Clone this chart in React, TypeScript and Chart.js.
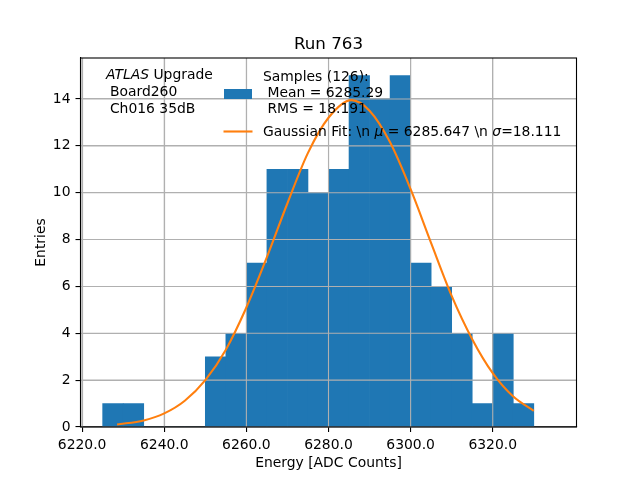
import { useEffect, useRef } from "react";
import { Chart, registerables } from "chart.js";

Chart.register(...registerables);

// histogram: 5-unit bins from 6225 to 6330
const binCenters = [
  6227.5, 6232.5, 6237.5, 6242.5, 6247.5, 6252.5, 6257.5, 6262.5, 6267.5, 6272.5, 6277.5,
  6282.5, 6287.5, 6292.5, 6297.5, 6302.5, 6307.5, 6312.5, 6317.5, 6322.5, 6327.5,
];
const counts = [1, 1, 0, 0, 0, 3, 4, 7, 11, 11, 10, 11, 15, 14, 15, 7, 6, 4, 1, 4, 1];

// gaussian fit curve
const fitX = [
  6228.5, 6235, 6240, 6245, 6250, 6255, 6260, 6265, 6270, 6275, 6280, 6285.6, 6290, 6295,
  6300, 6305, 6310, 6315, 6320, 6325, 6330,
];
const fitY = [
  0.11, 0.28, 0.58, 1.12, 2.0, 3.3, 5.1, 7.25, 9.55, 11.7, 13.2, 13.95, 13.5, 12.15, 10.15,
  7.85, 5.6, 3.75, 2.3, 1.3, 0.69,
];

const xTicks = [6220, 6240, 6260, 6280, 6300, 6320];
const yTicks = [0, 2, 4, 6, 8, 10, 12, 14];

const FONT = "'DejaVu Sans', sans-serif";
const BLUE = "#1f77b4";
const ORANGE = "#ff7f0e";
const GRID = "#b0b0b0";

// draws text pieces in a row, some of them italic
function drawRuns(ctx: CanvasRenderingContext2D, runs: [string, boolean][], x: number, y: number) {
  let cx = x;
  for (const [txt, italic] of runs) {
    ctx.font = `${italic ? "italic " : ""}13.9px ${FONT}`;
    ctx.fillText(txt, cx, y);
    cx += ctx.measureText(txt).width;
  }
}

// grid goes above the bars but under the fit line, like matplotlib
const gridOverBars = {
  id: "gridOverBars",
  afterDatasetDraw(chart: Chart, args: any) {
    if (args.index !== 1) return;
    const { ctx, chartArea: a, scales } = chart;
    ctx.save();
    ctx.strokeStyle = GRID;
    ctx.lineWidth = 1.1;
    ctx.beginPath();
    for (const v of xTicks) {
      const px = scales.x.getPixelForValue(v);
      ctx.moveTo(px, a.top);
      ctx.lineTo(px, a.bottom);
    }
    for (const v of yTicks) {
      const py = scales.y.getPixelForValue(v);
      ctx.moveTo(a.left, py);
      ctx.lineTo(a.right, py);
    }
    ctx.stroke();
    ctx.restore();
  },
};

const overlay = {
  id: "overlay",
  afterDraw(chart: Chart) {
    const { ctx, chartArea: a } = chart;
    ctx.save();

    // spines
    ctx.strokeStyle = "#000";
    ctx.lineWidth = 1.1;
    ctx.strokeRect(a.left, a.top, a.right - a.left, a.bottom - a.top);

    ctx.fillStyle = "#000";
    ctx.textBaseline = "alphabetic";

    // title
    ctx.textAlign = "center";
    ctx.font = `16.7px ${FONT}`;
    ctx.fillText("Run 763", (a.left + a.right) / 2, 48.5);

    // axis labels
    ctx.font = `13.9px ${FONT}`;
    ctx.fillText("Energy [ADC Counts]", (a.left + a.right) / 2, 467);
    ctx.save();
    ctx.translate(45, (a.top + a.bottom) / 2);
    ctx.rotate(-Math.PI / 2);
    ctx.fillText("Entries", 0, 0);
    ctx.restore();

    // annotation
    ctx.textAlign = "left";
    drawRuns(ctx, [["ATLAS", true], [" Upgrade", false]], 106, 79);
    drawRuns(ctx, [[" Board260", false]], 105.5, 96);
    drawRuns(ctx, [[" Ch016 35dB", false]], 105.5, 112.5);

    // legend
    ctx.fillStyle = BLUE;
    ctx.fillRect(224, 89, 28, 10);
    ctx.strokeStyle = ORANGE;
    ctx.lineWidth = 2.1;
    ctx.beginPath();
    ctx.moveTo(223.5, 131.5);
    ctx.lineTo(252.5, 131.5);
    ctx.stroke();

    ctx.fillStyle = "#000";
    drawRuns(ctx, [["Samples (126):", false]], 263, 81);
    drawRuns(ctx, [[" Mean = 6285.29", false]], 263, 97);
    drawRuns(ctx, [[" RMS = 18.191", false]], 263, 113);
    drawRuns(
      ctx,
      [
        ["Gaussian Fit: \\n ", false],
        ["\u03bc", true],
        [" = 6285.647 \\n ", false],
        ["\u03c3", true],
        ["=18.111", false],
      ],
      263,
      136,
    );

    ctx.restore();
  },
};

export default function App() {
  const chartRef = useRef<HTMLCanvasElement>(null);
  const chartInstance = useRef<Chart | null>(null);

  useEffect(() => {
    const ctx = chartRef.current?.getContext("2d");
    if (!ctx) return;

    if (chartInstance.current) {
      chartInstance.current.destroy();
    }

    chartInstance.current = new Chart(ctx, {
      type: "bar",
      data: {
        datasets: [
          {
            type: "line",
            label: "Gaussian Fit",
            data: fitX.map((x, i) => ({ x, y: fitY[i] })),
            borderColor: ORANGE,
            borderWidth: 2.1,
            pointRadius: 0,
            cubicInterpolationMode: "monotone",
            order: 0,
          },
          {
            type: "bar",
            label: "Samples",
            data: binCenters.map((x, i) => ({ x, y: counts[i] })),
            backgroundColor: BLUE,
            borderColor: BLUE,
            borderWidth: 0,
            barPercentage: 1,
            categoryPercentage: 1,
            order: 1,
          },
        ] as any,
      },
      options: {
        responsive: false,
        animation: false,
        layout: { padding: { top: 58, right: 63.5, left: 0, bottom: 0 } },
        plugins: {
          legend: { display: false },
          title: { display: false },
          tooltip: { enabled: false },
        },
        scales: {
          x: {
            type: "linear",
            min: 6219.6,
            max: 6340.4,
            offset: false,
            afterBuildTicks: (s: any) => {
              s.ticks = xTicks.map((v) => ({ value: v }));
            },
            afterFit: (s: any) => {
              s.height = 53;
            },
            grid: { color: GRID, lineWidth: 1.1, tickLength: 5, tickColor: "#000", offset: false },
            border: { color: "#000", width: 1.1 },
            ticks: {
              color: "#000",
              padding: 5,
              maxRotation: 0,
              font: { family: FONT, size: 13.9 },
              callback: (v: any) => Number(v).toFixed(1),
            },
          },
          y: {
            type: "linear",
            min: 0,
            max: 15.75,
            afterBuildTicks: (s: any) => {
              s.ticks = yTicks.map((v) => ({ value: v }));
            },
            afterFit: (s: any) => {
              s.width = 80.5;
            },
            grid: { color: GRID, lineWidth: 1.1, tickLength: 5, tickColor: "#000" },
            border: { color: "#000", width: 1.1 },
            ticks: {
              color: "#000",
              padding: 5,
              font: { family: FONT, size: 13.9 },
            },
          },
        },
      },
      plugins: [gridOverBars, overlay],
    });

    return () => {
      chartInstance.current?.destroy();
      chartInstance.current = null;
    };
  }, []);

  return (
    <div style={{ position: "absolute", left: 0, top: 0, width: 640, height: 480, background: "#fff" }}>
      <canvas ref={chartRef} width={640} height={480} />
    </div>
  );
}
